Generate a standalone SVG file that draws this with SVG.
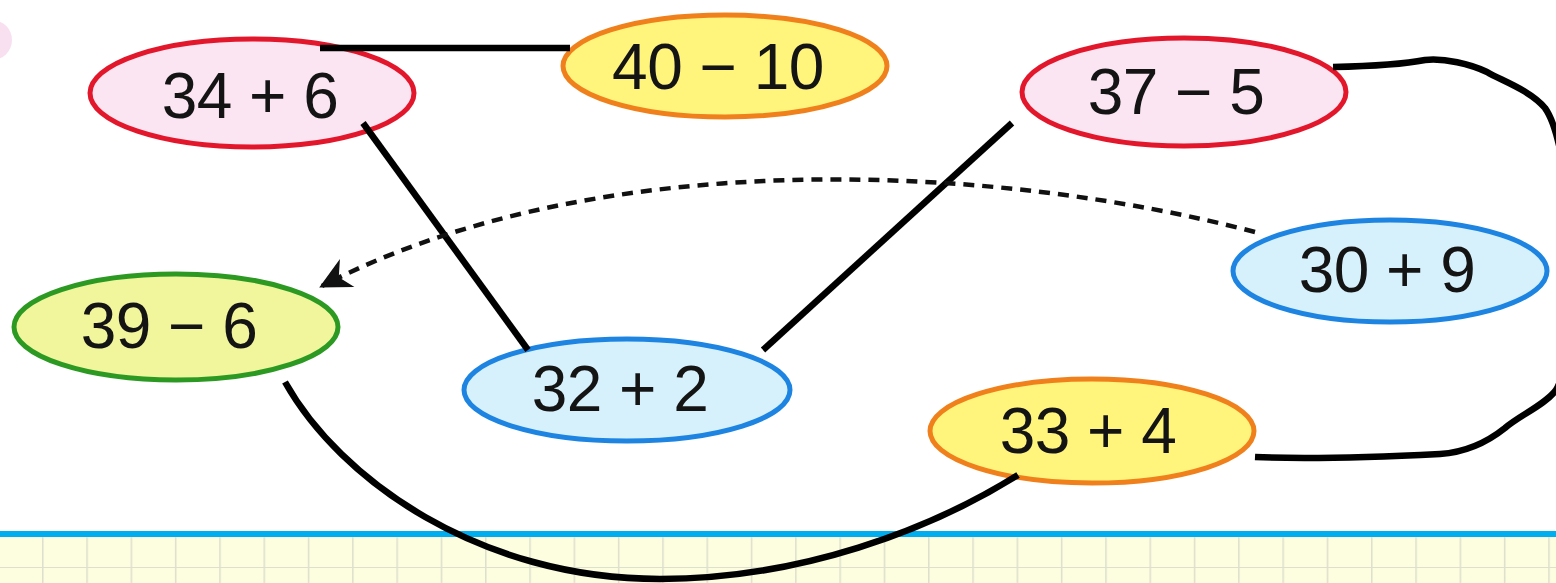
<svg xmlns="http://www.w3.org/2000/svg" width="1556" height="583" viewBox="0 0 1556 583">
  <defs>
    <style>
      .lbl { font-family: "Liberation Sans", Arial, sans-serif; font-size: 64px; letter-spacing: -0.5px; fill: #141414; text-anchor: middle; }
      .red { fill: #fce5f2; stroke: #e3172b; stroke-width: 5; }
      .org { fill: #fff47c; stroke: #f0801c; stroke-width: 5; }
      .grn { fill: #f1f59c; stroke: #2c9a22; stroke-width: 5; }
      .blu { fill: #d6f1fb; stroke: #1e84e2; stroke-width: 5; }
      .con { fill: none; stroke: #000; stroke-width: 6.5; stroke-linecap: butt; stroke-linejoin: round; }
      .dash { fill: none; stroke: #111; stroke-width: 4.5; stroke-dasharray: 11 8; }
    </style>
    <marker id="arr" viewBox="0 0 10 10" refX="9" refY="5" markerWidth="8" markerHeight="7" orient="auto" markerUnits="strokeWidth">
      <path d="M0,0 L10,5 L0,10 L3,5 Z" fill="#111"/>
    </marker>
    <pattern id="grid" x="42" y="537" width="44.3" height="31" patternUnits="userSpaceOnUse">
      <rect x="0" y="0" width="44.3" height="31" fill="#fdfde0"/>
      <rect x="-1" y="0" width="2.5" height="31" fill="#dedfcc"/>
      <rect x="0" y="30" width="44.3" height="2.5" fill="#dedfcc"/>
    </pattern>
  </defs>

  <rect x="0" y="0" width="1556" height="583" fill="#ffffff"/>
  <circle cx="-8" cy="40" r="20" fill="#f3cbe6" opacity="0.6"/>

  <g id="paper">
    <rect x="0" y="537" width="1556" height="46" fill="url(#grid)"/>
    <rect x="0" y="531" width="1556" height="6" fill="#00aeef"/>
  </g>

  <g id="n-34-6">
    <ellipse class="red" cx="252" cy="93" rx="162" ry="54"/>
    <text class="lbl" x="250" y="118">34 + 6</text>
  </g>
  <g id="n-40-10">
    <ellipse class="org" cx="725" cy="66" rx="162" ry="51"/>
    <text class="lbl" x="718" y="89">40 − 10</text>
  </g>
  <g id="n-37-5">
    <ellipse class="red" cx="1184" cy="92" rx="162" ry="54"/>
    <text class="lbl" x="1176" y="114">37 − 5</text>
  </g>
  <g id="n-30-9">
    <ellipse class="blu" cx="1390" cy="271" rx="157" ry="51"/>
    <text class="lbl" x="1387" y="292">30 + 9</text>
  </g>
  <g id="n-39-6">
    <ellipse class="grn" cx="176" cy="327" rx="162" ry="53"/>
    <text class="lbl" x="169" y="348">39 − 6</text>
  </g>
  <g id="n-32-2">
    <ellipse class="blu" cx="627" cy="390" rx="163" ry="51"/>
    <text class="lbl" x="620" y="411">32 + 2</text>
  </g>
  <g id="n-33-4">
    <ellipse class="org" cx="1092" cy="431" rx="162" ry="52"/>
    <text class="lbl" x="1088" y="453">33 + 4</text>
  </g>

  <g id="connectors">
    <line class="con" x1="320" y1="48" x2="570" y2="48"/>
    <line class="con" x1="363" y1="123" x2="528" y2="350"/>
    <line class="con" x1="1012" y1="123" x2="763" y2="350"/>
    <path class="dash" d="M1255,232 C1000,165 600,142 322,286" marker-end="url(#arr)"/>
    <path class="con" d="M285,382 C340,480 480,579 660,579 C800,579 930,530 1018,475"/>
    <path class="con" d="M1333,67 C1380,66 1405,64 1425,60 C1445,58 1470,64 1487,72 C1500,80 1530,90 1545,108 C1575,150 1580,350 1556,390 C1545,405 1520,415 1505,428 C1490,440 1470,452 1440,454 C1400,456 1320,460 1255,457"/>
  </g>
</svg>
